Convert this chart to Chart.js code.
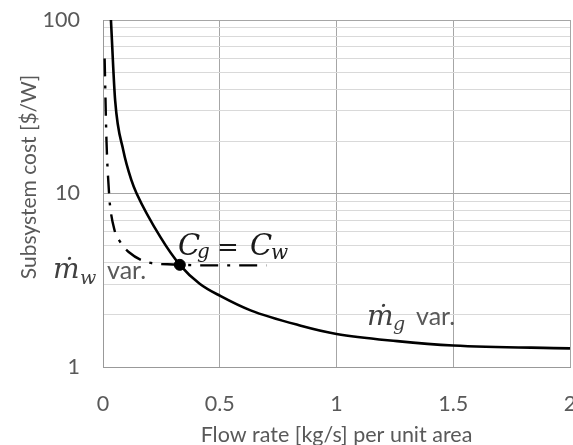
<!DOCTYPE html>
<html>
<head>
<meta charset="utf-8">
<script src="https://cdn.jsdelivr.net/npm/chart.js@4"></script>
<style>
  html, body { margin: 0; padding: 0; background: #fff; overflow: hidden; }
  #box { width: 582px; height: 445px; }
  #canvas { width: 582px; height: 445px; }
</style>
</head>
<body>
<div id="box"><canvas id="canvas" width="582" height="445"></canvas></div>
<script>
// solid curve: gas flow varied
const gasX = [0.034, 0.052, 0.087, 0.122, 0.144, 0.246, 0.329, 0.414, 0.504, 0.632, 0.847, 1.0, 1.26, 1.5, 2.0];
const gasY = [100, 34.4, 17.7, 11.9, 10, 5.6, 3.88, 3.02, 2.56, 2.12, 1.73, 1.55, 1.41, 1.33, 1.28];
// dash-dot curve: water flow varied
const waterX = [0.007, 0.015, 0.026, 0.029, 0.05, 0.072, 0.11, 0.197, 0.3, 0.45, 0.7];
const waterY = [60, 20, 10, 8.8, 6.1, 5.3, 4.6, 4.0, 3.9, 3.85, 3.85];
// C_g = C_w
const crossX = [0.329];
const crossY = [3.88];

const xTicks = [0, 0.5, 1, 1.5, 2];
const yTicks = [1, 2, 3, 4, 5, 6, 7, 8, 9, 10, 20, 30, 40, 50, 60, 70, 80, 90, 100];
const yLabels = [1, 10, 100];

const toPts = (xs, ys) => xs.map((x, i) => ({ x: x, y: ys[i] }));

const textGray = '#595959';
Chart.defaults.font.family = 'Lato';

const notes = {
  id: 'notes',
  afterDraw(chart) {
    const c = chart.ctx;
    c.save();
    c.textBaseline = 'alphabetic';
    c.textAlign = 'left';

    // y axis title
    c.save();
    c.translate(29, 177);
    c.rotate(-Math.PI / 2);
    c.textAlign = 'center';
    c.textBaseline = 'middle';
    c.fillStyle = textGray;
    c.font = '21px Lato';
    c.fillText('Subsystem cost [$/W]', 0, 0);
    c.restore();

    // C_g = C_w
    c.fillStyle = '#1a1a1a';
    c.font = 'italic 29px "DejaVu Serif"';
    c.fillText('C', 178, 255);
    c.fillText('C', 250, 255);
    c.font = 'italic 20px "DejaVu Serif"';
    c.fillText('g', 197, 258);
    c.fillText('w', 271, 259);
    c.font = '26px "DejaVu Serif"';
    c.fillText('=', 217, 256);

    // m_w var. / m_g var.
    c.fillStyle = '#404040';
    c.font = 'italic 28px "DejaVu Serif"';
    c.fillText('\u1E41', 53, 278);
    c.fillText('\u1E41', 367, 325);
    c.font = 'italic 19px "DejaVu Serif"';
    c.fillText('w', 80, 284);
    c.fillText('g', 393, 330);
    c.fillStyle = textGray;
    c.font = '25px Lato';
    c.fillText('var.', 107, 279);
    c.fillText('var.', 416, 325);
    c.restore();
  }
};

new Chart(document.getElementById('canvas'), {
  type: 'line',
  data: {
    datasets: [
      {
        data: toPts(gasX, gasY),
        borderColor: '#000',
        borderWidth: 2.6,
        pointRadius: 0,
        cubicInterpolationMode: 'monotone',
        fill: false
      },
      {
        data: toPts(waterX, waterY),
        borderColor: '#000',
        borderWidth: 2.4,
        borderDash: [18, 9, 3, 9],
        pointRadius: 0,
        cubicInterpolationMode: 'monotone',
        fill: false
      },
      {
        data: toPts(crossX, crossY),
        showLine: false,
        pointRadius: 5.5,
        pointBackgroundColor: '#000',
        pointBorderColor: '#000'
      }
    ]
  },
  options: {
    responsive: false,
    animation: false,
    layout: { padding: { top: 20, right: 12, left: 0, bottom: 0 } },
    plugins: { legend: { display: false }, tooltip: { enabled: false } },
    scales: {
      x: {
        type: 'linear',
        min: 0, max: 2,
        afterBuildTicks: s => { s.ticks = xTicks.map(v => ({ value: v })); },
        afterFit: s => { s.height = 78; s.paddingRight = 0; s.paddingLeft = 0; },
        grid: { color: '#a6a6a6', drawTicks: false },
        border: { color: '#999' },
        ticks: {
          padding: 24,
          color: textGray,
          font: { size: 21.5 },
          maxRotation: 0,
          callback: v => String(v)
        },
        title: {
          display: true,
          text: 'Flow rate [kg/s] per unit area',
          color: textGray,
          font: { size: 21.5, lineHeight: 1 },
          padding: { top: 0, bottom: -1 }
        }
      },
      y: {
        type: 'logarithmic',
        min: 1, max: 100,
        afterBuildTicks: s => { s.ticks = yTicks.map(v => ({ value: v })); },
        afterFit: s => { s.width = 103; s.paddingTop = 0; s.paddingBottom = 0; },
        grid: {
          drawTicks: false,
          color: ctx => yLabels.includes(ctx.tick && ctx.tick.value) ? '#a6a6a6' : '#d9d9d9'
        },
        border: { color: '#999' },
        ticks: {
          autoSkip: false,
          padding: 23,
          color: textGray,
          font: { size: 21.5 },
          callback: v => yLabels.includes(v) ? String(v) : ''
        }
      }
    }
  },
  plugins: [notes]
});
</script>
</body>
</html>
